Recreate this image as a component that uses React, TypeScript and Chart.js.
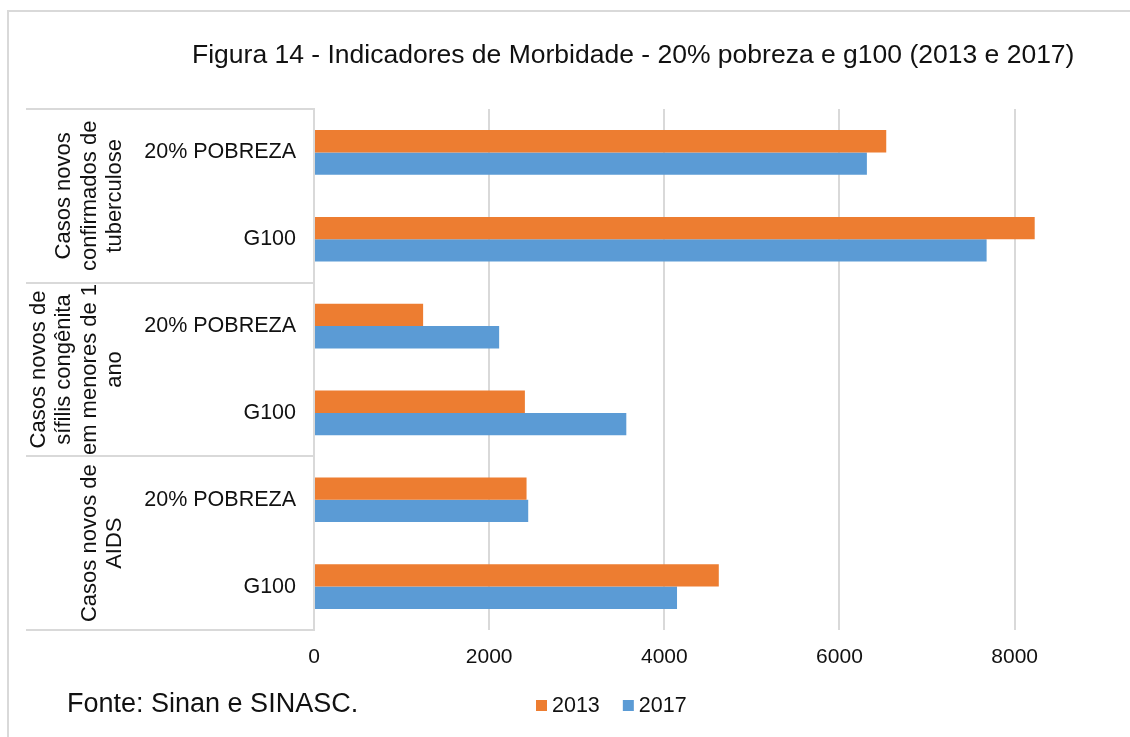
import React, { useEffect, useRef } from "react";
import { Chart, registerables } from "chart.js";

Chart.register(...registerables);

const titleText = "Figura 14 - Indicadores de Morbidade - 20% pobreza e g100 (2013 e 2017)";
const sourceText = "Fonte: Sinan e SINASC.";
const groupLabels = [
  ["Casos novos", "confirmados de", "tuberculose"],
  ["Casos novos de", "sífilis congênita", "em menores de 1", "ano"],
  ["Casos novos de", "AIDS"],
];
const groupSizes = [2, 2, 2];
const subCategories = ["20% POBREZA", "G100", "20% POBREZA", "G100", "20% POBREZA", "G100"];
const seriesLabels = ["2013", "2017"];
const series2013 = [6534, 8229, 1246, 2408, 2427, 4622];
const series2017 = [6313, 7680, 2114, 3566, 2446, 4145];
const xTickValues = [0, 2000, 4000, 6000, 8000, 10000];

const FONT = "'Liberation Sans', Arial, sans-serif";
const ORANGE = "#ED7D31";
const BLUE = "#5B9BD5";
const GRID = "#d9d9d9";
const TEXT = "#111111";

const decorPlugin = {
  id: "decor",
  beforeDraw(chart: any) {
    const ctx = chart.ctx;
    ctx.save();
    ctx.fillStyle = "#ffffff";
    ctx.fillRect(0, 0, chart.width, chart.height);
    ctx.fillStyle = GRID;
    ctx.fillRect(7, 10, chart.width, 2);
    ctx.fillRect(7, 10, 2, chart.height);
    ctx.restore();
  },
  afterDraw(chart: any) {
    const ctx = chart.ctx;
    const area = chart.chartArea;
    const ys = chart.scales.y;
    ctx.save();

    // group separators and rotated group labels
    let start = 0;
    const bounds: number[] = [];
    groupSizes.forEach((size, gi) => {
      const top = gi === 0 ? area.top : (ys.getPixelForValue(start - 1) + ys.getPixelForValue(start)) / 2;
      bounds.push(top);
      start += size;
    });
    bounds.push(area.bottom);
    ctx.fillStyle = GRID;
    bounds.forEach((b) => ctx.fillRect(26, Math.round(b) - 1, area.left - 26, 2));

    ctx.fillStyle = TEXT;
    ctx.font = `22px ${FONT}`;
    ctx.textAlign = "center";
    ctx.textBaseline = "middle";
    groupLabels.forEach((lines, gi) => {
      const cy = (bounds[gi] + bounds[gi + 1]) / 2;
      ctx.save();
      ctx.translate(115, cy);
      ctx.rotate(-Math.PI / 2);
      const n = lines.length;
      lines.forEach((ln, i) => {
        ctx.fillText(ln, 0, (i - (n - 1)) * 25.5);
      });
      ctx.restore();
    });

    // title
    ctx.textAlign = "left";
    ctx.textBaseline = "alphabetic";
    ctx.font = `26.5px ${FONT}`;
    ctx.fillText(titleText, 192, 63);

    // source
    ctx.font = `27px ${FONT}`;
    ctx.fillText(sourceText, 67, 712);

    // legend
    ctx.font = `21.5px ${FONT}`;
    ctx.textBaseline = "middle";
    let x = 536;
    chart.data.datasets.forEach((ds: any) => {
      ctx.fillStyle = ds.backgroundColor;
      ctx.fillRect(x, 700, 11, 11);
      ctx.fillStyle = TEXT;
      ctx.fillText(ds.label, x + 16, 706);
      x += 16 + ctx.measureText(ds.label).width + 23;
    });
    ctx.restore();
  },
};

export default function App() {
  const ref = useRef<HTMLCanvasElement | null>(null);
  useEffect(() => {
    if (!ref.current) return;
    const chart = new Chart(ref.current, {
      type: "bar",
      data: {
        labels: subCategories,
        datasets: [
          {
            label: seriesLabels[0],
            data: series2013,
            backgroundColor: ORANGE,
            categoryPercentage: 0.514,
            barPercentage: 1,
          },
          {
            label: seriesLabels[1],
            data: series2017,
            backgroundColor: BLUE,
            categoryPercentage: 0.514,
            barPercentage: 1,
          },
        ],
      },
      options: {
        indexAxis: "y",
        animation: false,
        responsive: false,
        devicePixelRatio: 1,
        layout: { padding: { top: 109, left: 0, right: 40, bottom: 0 } },
        plugins: {
          legend: { display: false },
          title: { display: false },
          tooltip: { enabled: false },
        },
        scales: {
          x: {
            type: "linear",
            min: xTickValues[0],
            max: xTickValues[xTickValues.length - 1],
            afterBuildTicks: (s: any) => {
              s.ticks = xTickValues.map((v) => ({ value: v }));
            },
            ticks: {
              color: TEXT,
              font: { family: FONT, size: 21 },
              padding: 15,
              maxRotation: 0,
              callback: (v: any) => String(v),
            },
            grid: { color: GRID, lineWidth: 2, drawTicks: false },
            border: { display: false },
            afterFit: (s: any) => {
              s.height = 107;
            },
          },
          y: {
            type: "category",
            offset: true,
            grid: { display: false, drawTicks: false },
            border: { display: true, color: GRID, width: 2 },
            ticks: {
              color: TEXT,
              font: { family: FONT, size: 21.5 },
              padding: 18,
              autoSkip: false,
            },
            afterFit: (s: any) => {
              s.width = 314;
            },
          },
        },
      },
      plugins: [decorPlugin],
    });
    return () => chart.destroy();
  }, []);

  return (
    <div
      style={{
        position: "fixed",
        left: 0,
        top: 0,
        width: 1130,
        height: 737,
        overflow: "hidden",
        background: "#fff",
      }}
    >
      <canvas ref={ref} width={1234} height={737} style={{ width: 1234, height: 737, display: "block" }} />
    </div>
  );
}
